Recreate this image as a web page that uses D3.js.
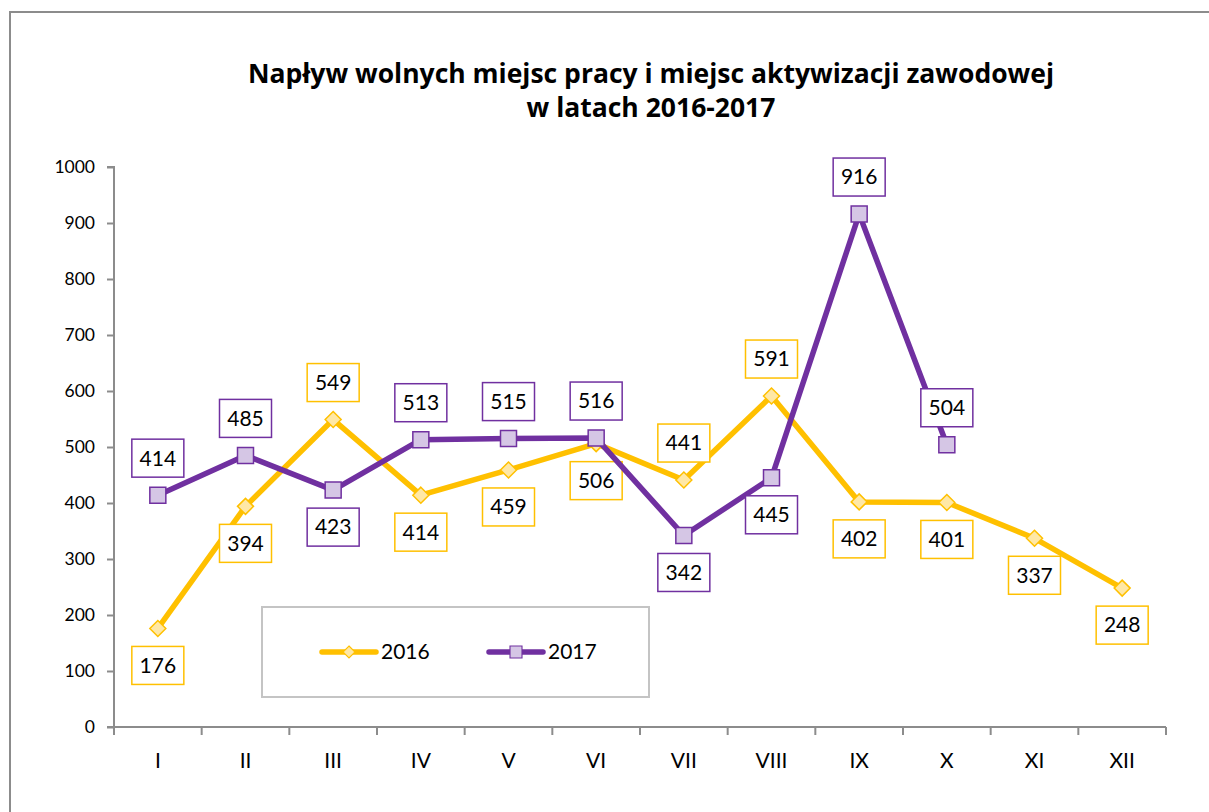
<!DOCTYPE html>
<html>
<head>
<meta charset="utf-8">
<script src="https://cdn.jsdelivr.net/npm/d3@7"></script>
<style>
  body { margin: 0; background: #fff; }
  svg text { font-family: Lato, "Open Sans", sans-serif; }
</style>
</head>
<body>
<svg id="vimage" width="1209" height="812"></svg>
<script>
// ---------------- data ----------------
var months = ["I", "II", "III", "IV", "V", "VI", "VII", "VIII", "IX", "X", "XI", "XII"];
var values2016 = [176, 394, 549, 414, 459, 506, 441, 591, 402, 401, 337, 248];
var values2017 = [414, 485, 423, 513, 515, 516, 342, 445, 916, 504];
// label above (-1) or below (+1) the point
var labelSide2016 = [1, 1, -1, 1, 1, 1, -1, -1, 1, 1, 1, 1];
var labelSide2017 = [-1, -1, 1, -1, -1, -1, 1, 1, -1, -1];
var yTicks = [0, 100, 200, 300, 400, 500, 600, 700, 800, 900, 1000];

var gold = "#FFC000", goldLight = "#FFE8A6";
var purple = "#7030A0", purpleLight = "#D5C6E5";

var svg = d3.select("#vimage");

// outer chart frame (runs off the right/bottom of the picture)
svg.append("rect")
  .attr("x", 10).attr("y", 12)
  .attr("width", 1230).attr("height", 840)
  .style("fill", "none").style("stroke", "#8c8c8c").style("stroke-width", 2);

// title
var title = svg.append("text")
  .attr("x", 651).attr("y", 83)
  .attr("text-anchor", "middle")
  .style("font-family", "'Open Sans', sans-serif")
  .style("font-size", "26.5px").style("font-weight", "bold").style("fill", "#000");
title.append("tspan").attr("x", 651).text("Napływ wolnych miejsc pracy i miejsc aktywizacji zawodowej");
title.append("tspan").attr("x", 651).attr("dy", 34).text("w latach 2016-2017");

// scales
var x = d3.scaleBand().domain(months).range([114, 1166]);
var y = d3.scaleLinear().domain([0, 1000]).range([727, 167]);

// y axis
var yAxis = svg.append("g")
  .attr("transform", "translate(114,0)")
  .call(d3.axisLeft(y).tickValues(yTicks).tickFormat(d3.format("d")).tickSize(7).tickPadding(12));
yAxis.select(".domain").attr("d", "M-7,167H0V727H-7");
yAxis.selectAll("path, line").style("stroke", "#8c8c8c").style("stroke-width", 2);
yAxis.selectAll("text").style("font-size", "17.5px").style("fill", "#000")
  .style("font-family", "Lato, sans-serif");

// x axis
var xAxis = svg.append("g")
  .attr("transform", "translate(0,727)")
  .call(d3.axisBottom(x).tickSize(0).tickPadding(26));
xAxis.select(".domain").attr("d", "M114,0H1166");
xAxis.selectAll("path").style("stroke", "#8c8c8c").style("stroke-width", 2);
xAxis.selectAll("text").style("font-size", "21px").style("fill", "#000")
  .style("font-family", "Lato, sans-serif");
xAxis.selectAll(".xtick")
  .data(d3.range(months.length + 1))
  .enter().append("line")
  .attr("class", "xtick")
  .attr("x1", function(d) { return 114 + d * x.step(); })
  .attr("x2", function(d) { return 114 + d * x.step(); })
  .attr("y1", 0).attr("y2", 8)
  .style("stroke", "#8c8c8c").style("stroke-width", 2);

function cx(d, i) { return x(months[i]) + x.bandwidth() / 2; }

var line = d3.line()
  .x(function(d, i) { return cx(d, i); })
  .y(function(d) { return y(d); });

// legend box
var legend = svg.append("g");
legend.append("rect")
  .attr("x", 262).attr("y", 607).attr("width", 387).attr("height", 90)
  .style("fill", "#fff").style("stroke", "#c4c4c4").style("stroke-width", 2);

function drawSeries(values, color, light, shape, sides) {
  var g = svg.append("g");
  g.append("path")
    .datum(values)
    .attr("d", line)
    .style("fill", "none").style("stroke", color)
    .style("stroke-width", 5.5).style("stroke-linejoin", "round").style("stroke-linecap", "round");

  g.selectAll(".mark")
    .data(values)
    .enter().append("path")
    .attr("class", "mark")
    .attr("transform", function(d, i) { return "translate(" + cx(d, i) + "," + y(d) + ")"; })
    .attr("d", shape)
    .style("fill", light).style("stroke", color).style("stroke-width", 1.5);

  var lab = g.selectAll(".lab")
    .data(values)
    .enter().append("g")
    .attr("class", "lab")
    .attr("transform", function(d, i) { return "translate(" + cx(d, i) + "," + (y(d) + sides[i] * 37) + ")"; });
  lab.append("rect")
    .attr("x", -26).attr("y", -19).attr("width", 52).attr("height", 38)
    .style("fill", "#fff").style("stroke", color).style("stroke-width", 1.5);
  lab.append("text")
    .attr("text-anchor", "middle").attr("dy", "0.35em")
    .style("font-size", "21px").style("fill", "#000")
    .text(function(d) { return d; });
}

var diamond = "M0,-8L8,0L0,8L-8,0Z";
var square = "M-8,-8H8V8H-8Z";

drawSeries(values2016, gold, goldLight, diamond, labelSide2016);
drawSeries(values2017, purple, purpleLight, square, labelSide2017);

// legend entries
var legendData = [
  {name: "2016", color: gold, light: goldLight, shape: diamond, x: 322},
  {name: "2017", color: purple, light: purpleLight, shape: square, x: 489}
];
var items = legend.selectAll(".item")
  .data(legendData)
  .enter().append("g")
  .attr("class", "item")
  .attr("transform", function(d) { return "translate(" + d.x + ",652)"; });
items.append("line")
  .attr("x1", 0).attr("x2", 54).attr("y1", 0).attr("y2", 0)
  .style("stroke", function(d) { return d.color; })
  .style("stroke-width", 5.5).style("stroke-linecap", "round");
items.append("path")
  .attr("transform", "translate(27,0) scale(0.75)")
  .attr("d", function(d) { return d.shape; })
  .style("fill", function(d) { return d.light; })
  .style("stroke", function(d) { return d.color; }).style("stroke-width", 1.5);
items.append("text")
  .attr("x", 59).attr("dy", "0.35em")
  .style("font-size", "21px").style("fill", "#000")
  .text(function(d) { return d.name; });
</script>
</body>
</html>
